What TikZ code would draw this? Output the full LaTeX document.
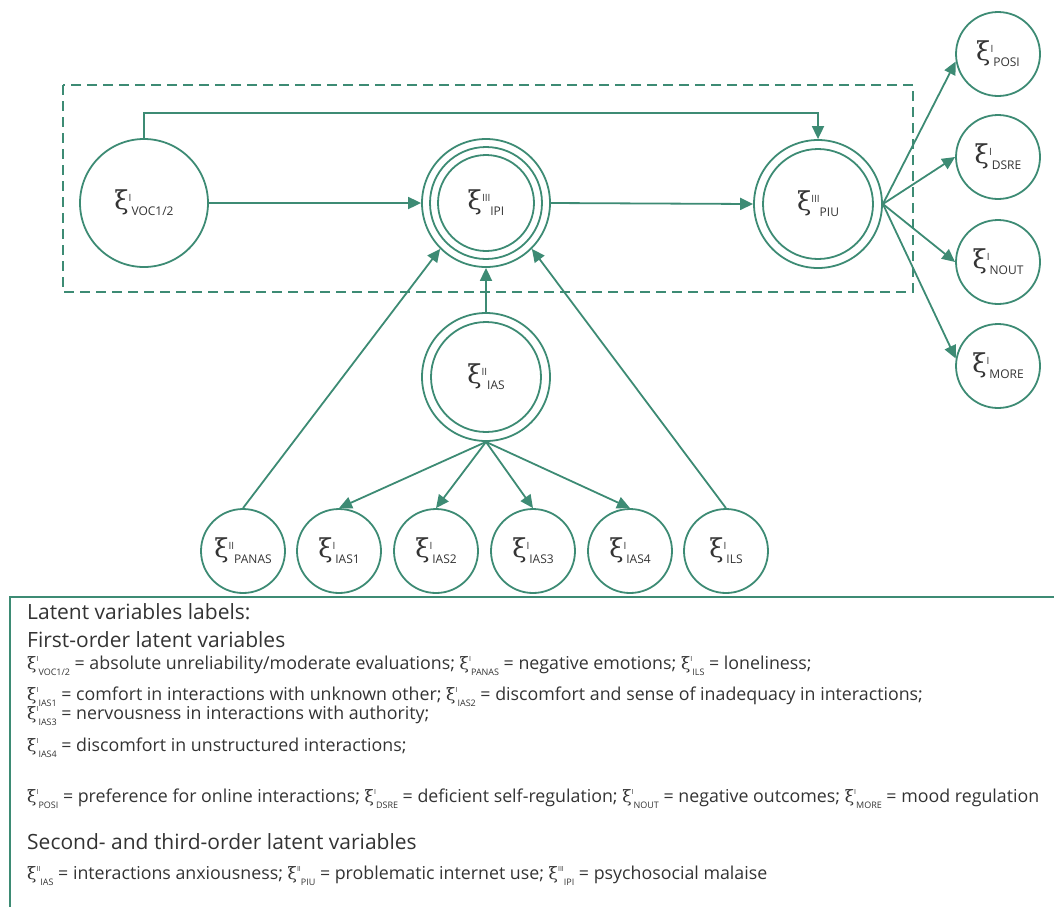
\documentclass[tikz,border=0pt]{standalone}
\usepackage{fontspec}
\setmainfont{Open Sans}
\newfontfamily\xifont{DejaVu Serif}
\usetikzlibrary{arrows.meta}
\definecolor{gr}{HTML}{3D8B74}
\definecolor{tx}{HTML}{333333}
\newcommand\nx[2]{{\xifont\fontsize{26}{26}\selectfont ξ}\raisebox{8pt}{\fontsize{10}{10}\selectfont #1}\raisebox{-6pt}{\fontsize{12}{12}\selectfont #2}}
\newcommand\lx[2]{{\xifont\fontsize{17}{17}\selectfont ξ}\raisebox{0.45em}{\fontsize{7}{7}\selectfont #1}\raisebox{-0.35em}{\fontsize{9}{9}\selectfont #2}}
\tikzset{
  lat/.style={circle,draw=gr,line width=1.8pt,inner sep=0pt,text=tx,font=\fontsize{12}{12}\selectfont},
  big/.style={lat,minimum size=128pt},
  small/.style={lat,minimum size=84pt},
  ring/.style={draw=gr,line width=1.8pt},
  arr/.style={draw=gr,line width=1.8pt,-{Triangle[length=13pt,width=12pt]}},
  leg/.style={anchor=west,inner sep=0pt,text=tx,font=\fontsize{17.8}{17.8}\selectfont},
  head/.style={anchor=west,inner sep=0pt,text=tx,font=\fontsize{21}{21}\selectfont}
}
\begin{document}
\begin{tikzpicture}[x=1pt,y=-1pt]
\useasboundingbox (0,0) rectangle (1054,906);
% dashed frame
\draw[gr,line width=1.8pt,dash pattern=on 10pt off 6pt] (63,85) rectangle (913,292);
% main nodes
\node[big] (voc) at (144,203) {\nx{I}{VOC1/2}};
\node[big] (ipi) at (486,203) {\nx{III}{IPI}};
\draw[ring] (ipi.center) circle[radius=56pt];
\draw[ring] (ipi.center) circle[radius=48pt];
\node[big] (piu) at (818,204) {\nx{III}{PIU}};
\draw[ring] (piu.center) circle[radius=55pt];
\node[big] (ias) at (486,377) {\nx{II}{IAS}};
\draw[ring] (ias.center) circle[radius=55pt];
% right nodes
\node[small] (posi) at (998,54) {\nx{I}{POSI}};
\node[small] (dsre) at (998,157) {\nx{I}{DSRE}};
\node[small] (nout) at (998,262) {\nx{I}{NOUT}};
\node[small] (more) at (998,366) {\nx{I}{MORE}};
% bottom nodes
\node[small] (panas) at (243,551) {\nx{II}{PANAS}};
\node[small] (ias1) at (339,551) {\nx{I}{IAS1}};
\node[small] (ias2) at (436,551) {\nx{I}{IAS2}};
\node[small] (ias3) at (533,551) {\nx{I}{IAS3}};
\node[small] (ias4) at (630,551) {\nx{I}{IAS4}};
\node[small] (ils) at (726,551) {\nx{I}{ILS}};
% connectors
\coordinate (tr) at (818,113);
\draw[arr] (voc.north) |- (tr) -- (piu.north);
\draw[arr] (voc.east) -- (ipi.west);
\draw[arr] (ipi.east) -- (piu.west);
\draw[arr] (ias.north) -- (ipi.south);
\draw[arr] (panas.north) -- (ipi.225);
\draw[arr] (ils.north) -- (ipi.315);
\draw[arr] (piu.east) -- (posi.190);
\draw[arr] (piu.east) -- (dsre.west);
\draw[arr] (piu.east) -- (nout.west);
\draw[arr] (piu.east) -- (more.170);
\draw[arr] (ias.south) -- (ias1.north);
\draw[arr] (ias.south) -- (ias2.north);
\draw[arr] (ias.south) -- (ias3.north);
\draw[arr] (ias.south) -- (ias4.north);
% legend frame
\draw[gr,line width=2pt] (1060,597) -- (10,597) -- (10,910);
% legend text
\node[head] (l0) at (27,612) {Latent variables labels:};
\node[head] (l1) at (27,640) {First-order latent variables};
\node[leg] (l2) at (27,666) {\lx{I}{VOC1/2} = absolute unreliability/moderate evaluations; \lx{I}{PANAS} = negative emotions; \lx{I}{ILS} = loneliness;};
\node[leg] (l3) at (27,697) {\lx{I}{IAS1} = comfort in interactions with unknown other; \lx{I}{IAS2} = discomfort and sense of inadequacy in interactions;};
\node[leg] (l4) at (27,716) {\lx{I}{IAS3} = nervousness in interactions with authority;};
\node[leg] (l5) at (27,748) {\lx{I}{IAS4} = discomfort in unstructured interactions;};
\node[leg] (l6) at (27,799) {\lx{I}{POSI} = preference for online interactions; \lx{I}{DSRE} = deficient self-regulation; \lx{I}{NOUT} = negative outcomes; \lx{I}{MORE} = mood regulation};
\node[head] (l7) at (27,842) {Second- and third-order latent variables};
\node[leg] (l8) at (27,876) {\lx{II}{IAS} = interactions anxiousness; \lx{II}{PIU} = problematic internet use; \lx{III}{IPI} = psychosocial malaise};
\end{tikzpicture}
\end{document}
